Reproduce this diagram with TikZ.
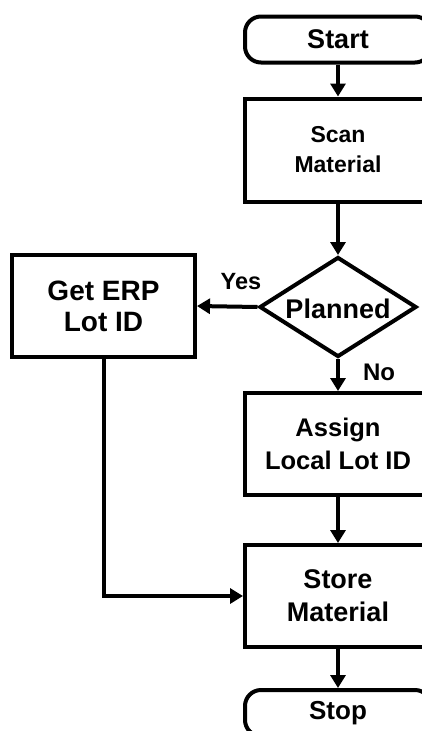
\documentclass[tikz,border=0pt]{standalone}
\usepackage{fontspec}
\setmainfont{Liberation Sans}
\usetikzlibrary{shapes.geometric,arrows.meta}
\begin{document}
\begin{tikzpicture}[x=1pt,y=-1pt,
  box/.style={draw, line width=4pt, rectangle, minimum width=186pt, minimum height=103pt, inner sep=0pt, align=center},
  term/.style={draw, line width=4pt, rectangle, rounded corners=16pt, minimum width=186pt, minimum height=46pt, inner sep=0pt},
  dec/.style={draw, line width=4pt, diamond, minimum width=157pt, minimum height=100pt, inner sep=0pt},
  lbl/.style={inner sep=0pt},
  flow/.style={line width=4pt, -{Triangle[length=13pt,width=15pt]}}]
\useasboundingbox (0,0) rectangle (422,731);
\clip (0,0) rectangle (422,731);
\node[term, font=\bfseries\fontsize{27}{32}\selectfont] (start) at (338,39.5) {Start};
\node[box, minimum height=103pt, font=\bfseries\fontsize{23}{30}\selectfont] (scan) at (338,150) {Scan\\Material};
\node[dec] (plan) at (338,307) {};
\node[lbl, font=\bfseries\fontsize{27}{32}\selectfont] (plantxt) at (338,309) {Planned};
\node[box, minimum width=183pt, minimum height=102pt, font=\bfseries\fontsize{28}{31}\selectfont] (erp) at (103.5,306) {Get ERP\\Lot ID};
\node[box, minimum height=102pt, font=\bfseries\fontsize{25.5}{33}\selectfont] (assign) at (338,444) {Assign\\Local Lot ID};
\node[box, minimum height=102pt, font=\bfseries\fontsize{27}{33}\selectfont] (store) at (338,596) {Store\\Material};
\node[term, font=\bfseries\fontsize{26}{32}\selectfont] (stop) at (338,713) {Stop};
\node[lbl, font=\bfseries\fontsize{23.5}{26}\selectfont] (yes) at (241,282) {Yes};
\node[lbl, font=\bfseries\fontsize{24}{26}\selectfont] (no) at (379,372) {No};
\coordinate (bend) at (erp.south |- store.west);
\draw[flow] (start) -- (scan);
\draw[flow] (scan) -- (plan.north);
\draw[flow] (plan.west) -- (erp.east);
\draw[flow] (plan.south) -- (assign);
\draw[flow] (assign) -- (store);
\draw[flow] (store) -- (stop);
\draw[flow] (erp.south) -- (bend) -- (store.west);
\end{tikzpicture}
\end{document}
